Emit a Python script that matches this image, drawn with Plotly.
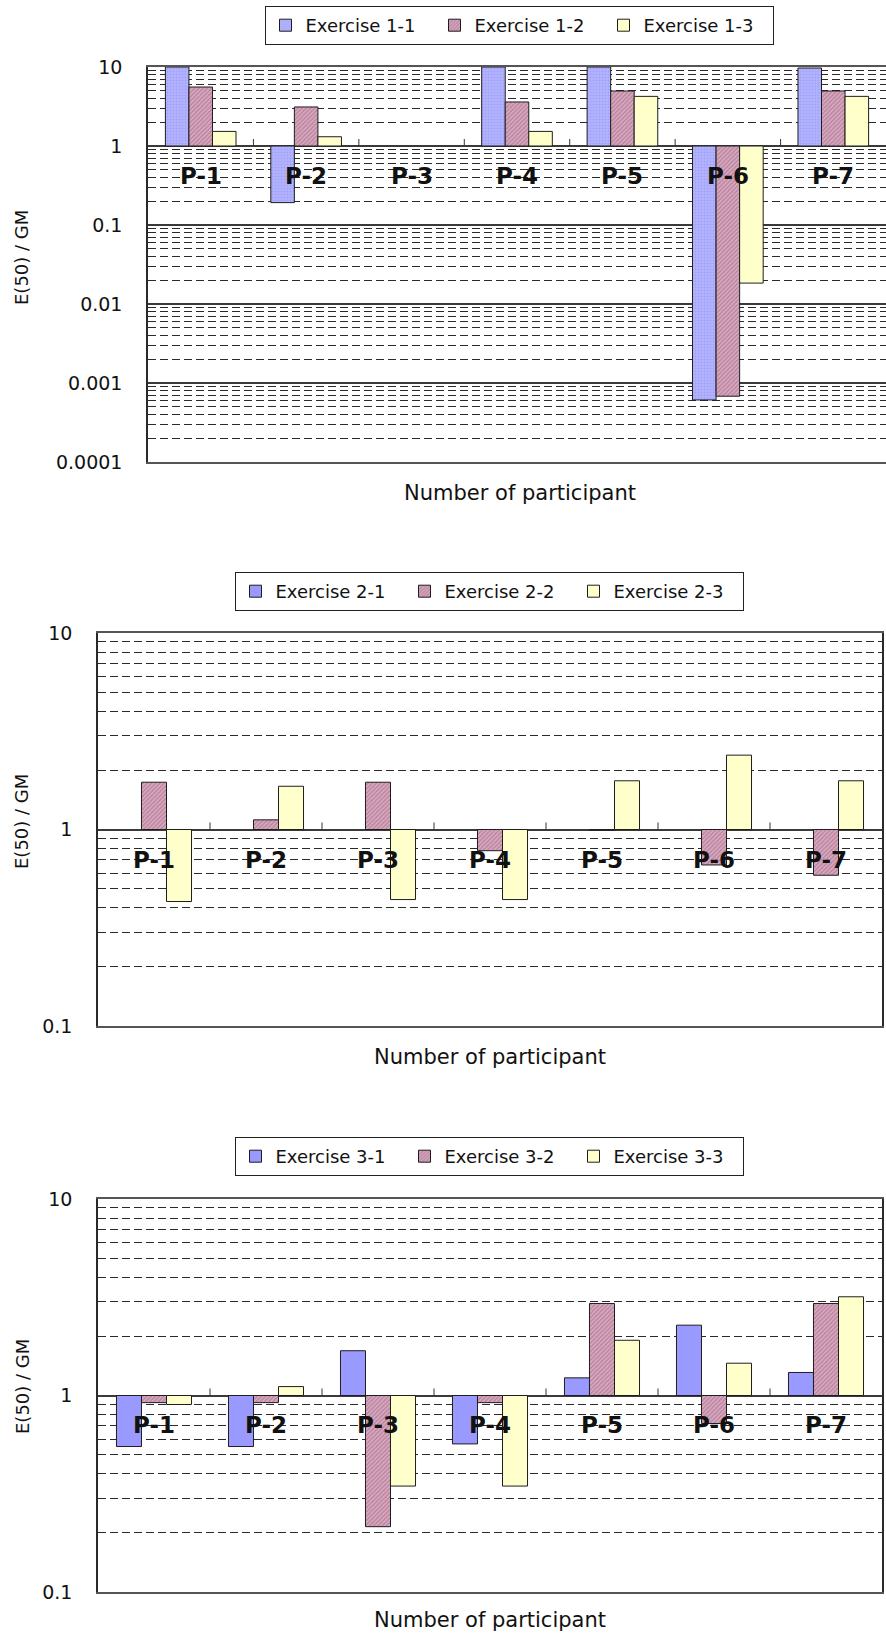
import plotly.graph_objects as go

# ---------------- data ----------------
participants = ["P-1", "P-2", "P-3", "P-4", "P-5", "P-6", "P-7"]

ex1_names = ["Exercise 1-1", "Exercise 1-2", "Exercise 1-3"]
ex1_1 = [10, 0.192, None, 10, 10, 0.00061, 9.71]
ex1_2 = [5.58, 3.12, None, 3.61, 4.97, 0.00068, 4.97]
ex1_3 = [1.53, 1.31, None, 1.53, 4.25, 0.0184, 4.25]

ex2_names = ["Exercise 2-1", "Exercise 2-2", "Exercise 2-3"]
ex2_1 = [None, None, None, None, None, None, None]
ex2_2 = [1.74, 1.12, 1.74, 0.78, 0.99, 0.66, 0.585]
ex2_3 = [0.43, 1.66, 0.44, 0.44, 1.77, 2.39, 1.77]

ex3_names = ["Exercise 3-1", "Exercise 3-2", "Exercise 3-3"]
ex3_1 = [0.55, 0.55, 1.69, 0.567, 1.23, 2.28, 1.31]
ex3_2 = [0.92, 0.92, 0.215, 0.92, 2.94, 0.72, 2.94]
ex3_3 = [0.90, 1.11, 0.346, 0.346, 1.91, 1.46, 3.18]

y_title = "E(50) / GM"
x_title = "Number of participant"

# ---------------- styles ----------------
W, H = 886, 1636
FONT = "DejaVu Sans"
EDGE = dict(color="#1e1e1e", width=1)

blue1 = dict(color="#B3B3FF", pattern=dict(shape=".", fgcolor="#9090EE", bgcolor="#B3B3FF", size=3, solidity=0.35))
blue = dict(color="#9999FF")
pink = dict(color="#D6A6BC", pattern=dict(shape="/", fgcolor="#9A5A7A", bgcolor="#D8AAC0", size=3, solidity=0.45))
yellow = dict(color="#FFFFCC")

fig = go.Figure()


def add_group(series, names, styles, xr, yr, legend):
    for vals, name, st in zip(series, names, styles):
        sizes = [None if v is None else v - 1 for v in vals]
        fig.add_trace(go.Bar(
            x=participants, y=sizes, base=1, name=name,
            marker=dict(**st, line=EDGE),
            xaxis=xr, yaxis=yr, legend=legend, hoverinfo="skip",
        ))


add_group([ex1_1, ex1_2, ex1_3], ex1_names, [blue1, pink, yellow], "x", "y", "legend")
add_group([ex2_1, ex2_2, ex2_3], ex2_names, [blue, pink, yellow], "x2", "y2", "legend2")
add_group([ex3_1, ex3_2, ex3_3], ex3_names, [blue, pink, yellow], "x3", "y3", "legend3")


def px_dom(top, bottom):
    return [1 - bottom / H, 1 - top / H]


def yaxis_cfg(domain, lo, hi, anchor):
    decades = list(range(lo, hi + 1))
    major = [10.0 ** d for d in decades]
    labels = [("%g" % m) if m >= 1 else ("%." + str(-d) + "f") % m for m, d in zip(major, decades)]
    minor = [k * 10.0 ** d for d in decades[:-1] for k in range(2, 10)]
    return dict(
        type="log", domain=domain, range=[lo, hi], anchor=anchor,
        tickmode="array", tickvals=major, ticktext=labels,
        ticks="", ticklabelstandoff=20,
        tickfont=dict(family=FONT, size=19, color="#111"),
        showgrid=True, gridcolor="#3a3a3a", gridwidth=1.5,
        minor=dict(tickmode="array", tickvals=minor, showgrid=True,
                   gridcolor="#2a2a2a", gridwidth=1, griddash="8px,4px", ticks=""),
        showline=True, linecolor="#2a2a2a", linewidth=1.5, mirror=True,
        zeroline=False, fixedrange=True,
    )


def xaxis_cfg(domain, anchor):
    return dict(
        type="category", domain=domain, anchor=anchor, showticklabels=False,
        ticks="", showgrid=False, showline=True, linecolor="#555", linewidth=1.5,
        mirror=True, zeroline=False, fixedrange=True,
    )


dom1 = px_dom(67, 462)
dom2 = px_dom(633, 1026)
dom3 = px_dom(1199, 1592)
xd1 = [148 / W, 1.0]
xd23 = [98 / W, 882 / W]

fig.update_layout(
    width=W, height=H, margin=dict(l=0, r=0, t=0, b=0, autoexpand=False),
    paper_bgcolor="white", plot_bgcolor="white",
    barmode="group", bargap=0.33, bargroupgap=0,
    font=dict(family=FONT, color="#111"),
    xaxis=xaxis_cfg(xd1, "y"), yaxis=yaxis_cfg(dom1, -4, 1, "x"),
    xaxis2=xaxis_cfg(xd23, "y2"), yaxis2=yaxis_cfg(dom2, -1, 1, "x2"),
    xaxis3=xaxis_cfg(xd23, "y3"), yaxis3=yaxis_cfg(dom3, -1, 1, "x3"),
)

leg_common = dict(orientation="h", xanchor="center", yanchor="top",
                  bordercolor="#222", borderwidth=1, bgcolor="white",
                  font=dict(family=FONT, size=18, color="#111"),
                  entrywidth=124, entrywidthmode="pixels", itemwidth=30,
                  tracegroupgap=0)
fig.update_layout(
    legend=dict(x=519 / W, y=1 - 6 / H, **leg_common),
    legend2=dict(x=489 / W, y=1 - 572 / H, **leg_common),
    legend3=dict(x=489 / W, y=1 - 1137 / H, **leg_common),
)

annotations = []
shapes = []
panels = [
    ("x", "y", -30, (520, 493), 258),
    ("x2", "y2", -31, (490, 1057), 822),
    ("x3", "y3", -29, (490, 1620), 1387),
]
for xr, yr, shift, (tx, ty), ymid in panels:
    for p in participants:
        annotations.append(dict(
            x=p, y=0, xref=xr, yref=yr, yshift=shift, yanchor="middle",
            text="<b>%s</b>" % p, showarrow=False,
            font=dict(family=FONT, size=23, color="#111"),
        ))
    annotations.append(dict(
        x=tx / W, y=1 - ty / H, xref="paper", yref="paper",
        text=x_title, showarrow=False, xanchor="center", yanchor="middle",
        font=dict(family=FONT, size=21, color="#111"),
    ))
    annotations.append(dict(
        x=22 / W, y=1 - ymid / H, xref="paper", yref="paper",
        text=y_title, showarrow=False, textangle=-90,
        xanchor="center", yanchor="middle",
        font=dict(family=FONT, size=18, color="#111"),
    ))
    for i in range(1, len(participants)):
        shapes.append(dict(
            type="line", xref=xr, yref=yr, x0=i - 0.5, x1=i - 0.5,
            ysizemode="pixel", yanchor=1, y0=0, y1=7,
            line=dict(color="#333", width=1),
        ))

fig.update_layout(annotations=annotations, shapes=shapes)

fig.write_html("out.html", config={"displayModeBar": False},
               post_script="document.body.style.margin='0';")
